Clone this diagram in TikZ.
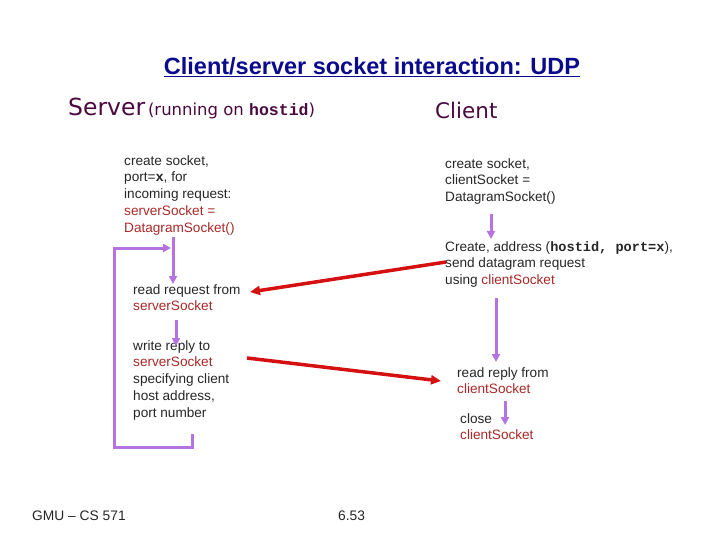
\documentclass[tikz,border=0pt]{standalone}
\usepackage{fontspec}
\setmainfont{Liberation Sans}
\newfontfamily\hand{DejaVu Sans}
\newfontfamily\cour{Liberation Mono}
\usetikzlibrary{arrows.meta}
\definecolor{pur}{HTML}{B673E0}
\definecolor{rd}{HTML}{D41010}
\definecolor{tr}{HTML}{A82828}
\definecolor{ttl}{HTML}{0A0A8C}
\definecolor{hd}{HTML}{4A0A40}
\newcommand{\rs}[1]{\textcolor{tr}{#1}}
\newcommand{\cb}[1]{{\cour\bfseries #1}}
\begin{document}
\begin{tikzpicture}[x=1pt,y=-1pt,
  txt/.style={anchor=north west,align=left,inner sep=0pt,font=\fontsize{13.6}{16.8}\selectfont,text=black!85},
  pa/.style={pur,line width=3pt,-{Triangle[length=8pt,width=8pt]}},
  pl/.style={pur,line width=3pt},
  ra/.style={rd,line width=3.5pt,-{Triangle[length=10pt,width=9pt]}}]
\useasboundingbox (0,0) rectangle (720,540);
\node[ttl,font=\bfseries\fontsize{23.5}{26}\selectfont] (title) at (372,67) {\underline{Client/server socket interaction: UDP}};
\node[anchor=west,text=hd,inner sep=0pt] (srv) at (68,108) {{\hand\fontsize{23.5}{26}\selectfont Server} {\hand\fontsize{16.5}{18}\selectfont (running on \cb{hostid})}};
\node[anchor=west,text=hd,inner sep=0pt,font=\hand\fontsize{21.5}{24}\selectfont] (cli) at (435,110) {Client};
\node[txt] (s1) at (124,155) {create socket,\\port=\cb{x}, for\\incoming request:\\\rs{serverSocket =}\\\rs{DatagramSocket()}};
\node[txt] (s2) at (133,284) {read request from\\\rs{serverSocket}};
\node[txt] (s3) at (133,340) {write reply to\\\rs{serverSocket}\\specifying client\\host address,\\port number};
\node[txt] (c1) at (445,158) {create socket,\\clientSocket =\\DatagramSocket()};
\node[txt] (c2) at (445,241) {Create, address (\cb{hostid, port=x}),\\send datagram request\\using \rs{clientSocket}};
\node[txt] (c3) at (457,367) {read reply from\\\rs{clientSocket}};
\node[txt] (c4) at (460,413) {close\\\rs{clientSocket}};
\node[anchor=west,inner sep=0pt,font=\fontsize{13.8}{15}\selectfont,text=black!85] (f1) at (32,516) {GMU -- CS 571};
\node[anchor=west,inner sep=0pt,font=\fontsize{13.8}{15}\selectfont,text=black!85] (f2) at (338,516) {6.53};
\draw[pa] (173,237) -- (173,284);
\draw[pa] (176,320) -- (176,346);
\draw[pl] (192,434) -- (192,447) -- (114,447) -- (114,248);
\draw[pa] (112.5,248) -- (171,248);
\draw[pa] (491,214) -- (491,239);
\draw[pa] (496,298) -- (496,362);
\draw[pa] (505,401) -- (505,425);
\draw[ra] (446,262) -- (250,292);
\draw[ra] (247,358) -- (441,381);
\end{tikzpicture}
\end{document}
